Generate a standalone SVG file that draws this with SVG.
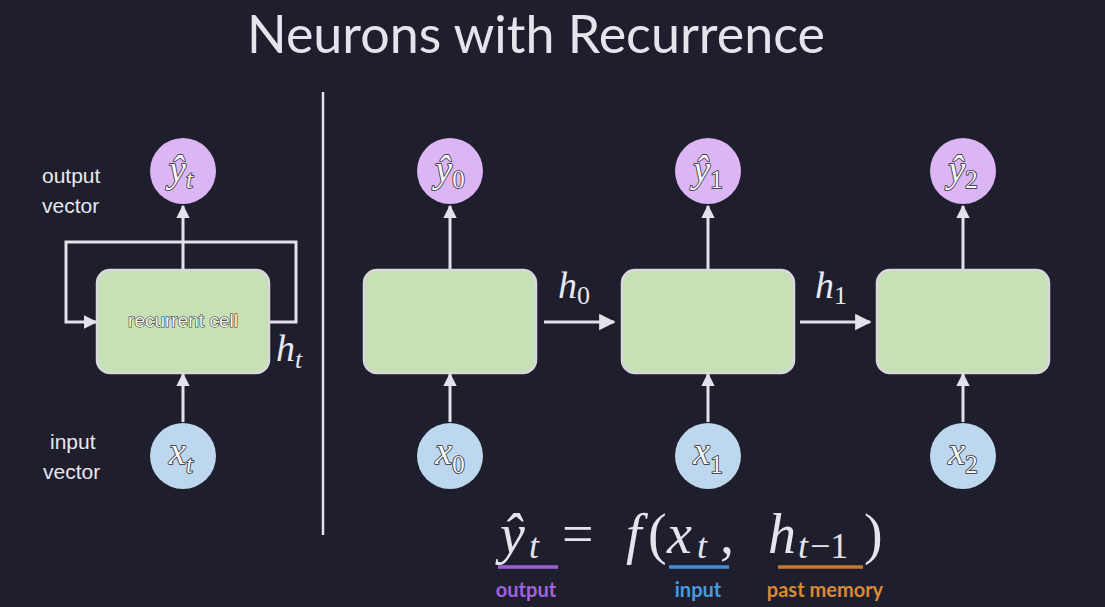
<svg xmlns="http://www.w3.org/2000/svg" width="1105" height="607" viewBox="0 0 1105 607">
  <defs>
    <marker id="arr" viewBox="0 0 10 10" refX="9" refY="5" markerWidth="4.5" markerHeight="4.5" markerUnits="strokeWidth" orient="auto">
      <path d="M0,0 L10,5 L0,10 Z" fill="#e2e2ea"/>
    </marker>
    <marker id="arrBig" viewBox="0 0 10 10" refX="9" refY="5" markerWidth="5.5" markerHeight="5.5" markerUnits="strokeWidth" orient="auto">
      <path d="M0,0 L10,5 L0,10 Z" fill="#e2e2ea"/>
    </marker>
  </defs>
  <style>
    .bg { fill: #1e1e2c; }
    .title { font-family: Lato, "Open Sans", sans-serif; font-size: 52px; fill: #e4e4ec; }
    .cell { fill: #c6e1b6; stroke: #d8d8dc; stroke-width: 2.5; }
    .out { fill: #dcb6f4; }
    .in { fill: #bdd7ee; }
    .conn { stroke: #e2e2ea; stroke-width: 3; fill: none; }
    .sym { font-family: "Liberation Serif", "DejaVu Serif", serif; font-style: italic; font-size: 38px; fill: #f8f8f8; stroke: #2a2a34; stroke-width: 1.6; paint-order: stroke; text-anchor: middle; }
    .sub { font-size: 25px; font-style: normal; }
    .subi { font-size: 25px; font-style: italic; }
    .hlab { font-family: "Liberation Serif", "DejaVu Serif", serif; font-style: italic; font-size: 38px; fill: #e8e8ee; }
    .hsub { font-size: 26px; font-style: normal; }
    .hsubi { font-size: 26px; font-style: italic; }
    .side { font-family: "Liberation Sans", Arial, sans-serif; font-size: 21px; fill: #e8e8ee; }
    .celltxt { font-family: "Liberation Sans", Arial, sans-serif; font-size: 19px; fill: #f8f8f8; stroke: #333; stroke-width: 1.2; paint-order: stroke; text-anchor: middle; }
    .eq { font-family: "Liberation Serif", "DejaVu Serif", serif; font-style: italic; font-size: 56px; fill: #e4e4ec; }
    .eqsub { font-size: 36px; }
    .eqn { font-style: normal; }
    .tag { font-family: Lato, "Open Sans", sans-serif; font-weight: bold; font-size: 20px; }
  </style>
  <rect class="bg" x="0" y="0" width="1105" height="607"/>

  <text class="title" x="536" y="53" text-anchor="middle">Neurons with Recurrence</text>

  <!-- divider -->
  <line x1="323" y1="92" x2="323" y2="535" stroke="#e2e2ea" stroke-width="2.5"/>

  <!-- connectors -->
  <g id="connectors">
    <line class="conn" x1="183" y1="270" x2="183" y2="206" marker-end="url(#arr)"/>
    <line class="conn" x1="183" y1="422" x2="183" y2="374" marker-end="url(#arr)"/>
    <polyline class="conn" points="270,322 296,322 296,242 66,242 66,322 96,322" marker-end="url(#arr)"/>

    <line class="conn" x1="450" y1="270" x2="450" y2="206" marker-end="url(#arr)"/>
    <line class="conn" x1="450" y1="422" x2="450" y2="374" marker-end="url(#arr)"/>
    <line class="conn" x1="708" y1="270" x2="708" y2="206" marker-end="url(#arr)"/>
    <line class="conn" x1="708" y1="422" x2="708" y2="374" marker-end="url(#arr)"/>
    <line class="conn" x1="963" y1="270" x2="963" y2="206" marker-end="url(#arr)"/>
    <line class="conn" x1="963" y1="422" x2="963" y2="374" marker-end="url(#arr)"/>

    <line class="conn" x1="544" y1="322" x2="614" y2="322" marker-end="url(#arrBig)"/>
    <line class="conn" x1="800" y1="322" x2="870" y2="322" marker-end="url(#arrBig)"/>
  </g>

  <!-- left folded RNN -->
  <g id="label-output-vector">
    <text class="side" x="42" y="183">output</text>
    <text class="side" x="42" y="213">vector</text>
  </g>
  <g id="label-input-vector">
    <text class="side" x="50" y="449">input</text>
    <text class="side" x="43" y="479">vector</text>
  </g>
  <g id="node-yt">
    <circle class="out" cx="183" cy="171" r="33"/>
    <text class="sym" x="181" y="182">ŷ<tspan class="subi" dy="6">t</tspan></text>
  </g>
  <g id="node-cell">
    <rect class="cell" x="97" y="270" width="172" height="103" rx="13"/>
    <text class="celltxt" x="183" y="327">recurrent cell</text>
  </g>
  <g id="node-xt">
    <circle class="in" cx="183" cy="456" r="33"/>
    <text class="sym" x="181" y="464">x<tspan class="subi" dy="9">t</tspan></text>
  </g>
  <text class="hlab" x="276" y="361">h<tspan class="hsubi" dy="7">t</tspan></text>

  <!-- unrolled -->
  <g id="node-y0">
    <circle class="out" cx="450" cy="171" r="33"/>
    <text class="sym" x="450" y="182">ŷ<tspan class="sub" dy="6">0</tspan></text>
  </g>
  <g id="node-cell0">
    <rect class="cell" x="364" y="270" width="172" height="103" rx="13"/>
  </g>
  <g id="node-x0">
    <circle class="in" cx="450" cy="456" r="33"/>
    <text class="sym" x="450" y="464">x<tspan class="sub" dy="9">0</tspan></text>
  </g>

  <g id="node-y1">
    <circle class="out" cx="708" cy="171" r="33"/>
    <text class="sym" x="708" y="182">ŷ<tspan class="sub" dy="6">1</tspan></text>
  </g>
  <g id="node-cell1">
    <rect class="cell" x="622" y="270" width="172" height="103" rx="13"/>
  </g>
  <g id="node-x1">
    <circle class="in" cx="708" cy="456" r="33"/>
    <text class="sym" x="708" y="464">x<tspan class="sub" dy="9">1</tspan></text>
  </g>

  <g id="node-y2">
    <circle class="out" cx="963" cy="171" r="33"/>
    <text class="sym" x="963" y="182">ŷ<tspan class="sub" dy="6">2</tspan></text>
  </g>
  <g id="node-cell2">
    <rect class="cell" x="877" y="270" width="172" height="103" rx="13"/>
  </g>
  <g id="node-x2">
    <circle class="in" cx="963" cy="456" r="33"/>
    <text class="sym" x="963" y="464">x<tspan class="sub" dy="9">2</tspan></text>
  </g>

  <text class="hlab" x="558" y="298">h<tspan class="hsub" dy="6">0</tspan></text>
  <text class="hlab" x="815" y="298">h<tspan class="hsub" dy="6">1</tspan></text>

  <!-- equation -->
  <g id="equation">
    <text class="eq" y="553"><tspan x="500">ŷ</tspan><tspan class="eqsub" x="529" dy="5">t</tspan><tspan class="eqn" x="562" dy="-5">=</tspan><tspan x="626">f</tspan><tspan class="eqn" x="648">(</tspan><tspan x="667">x</tspan><tspan class="eqsub" x="697" dy="5">t</tspan><tspan class="eqn" x="720" dy="-5">,</tspan><tspan x="768">h</tspan><tspan class="eqsub" x="798" dy="5">t</tspan><tspan class="eqsub eqn" x="810">−1</tspan><tspan class="eqn" x="864" dy="-5">)</tspan></text>
    <line x1="498" y1="567" x2="558" y2="567" stroke="#9f5fdc" stroke-width="3.5"/>
    <line x1="669" y1="567" x2="729" y2="567" stroke="#3f8fd8" stroke-width="3.5"/>
    <line x1="778" y1="567" x2="863" y2="567" stroke="#c87a2a" stroke-width="3.5"/>
    <text class="tag" x="526" y="597" text-anchor="middle" fill="#a063e0">output</text>
    <text class="tag" x="698" y="597" text-anchor="middle" fill="#4a9ae0">input</text>
    <text class="tag" x="825" y="597" text-anchor="middle" fill="#d88a34">past memory</text>
  </g>
</svg>
